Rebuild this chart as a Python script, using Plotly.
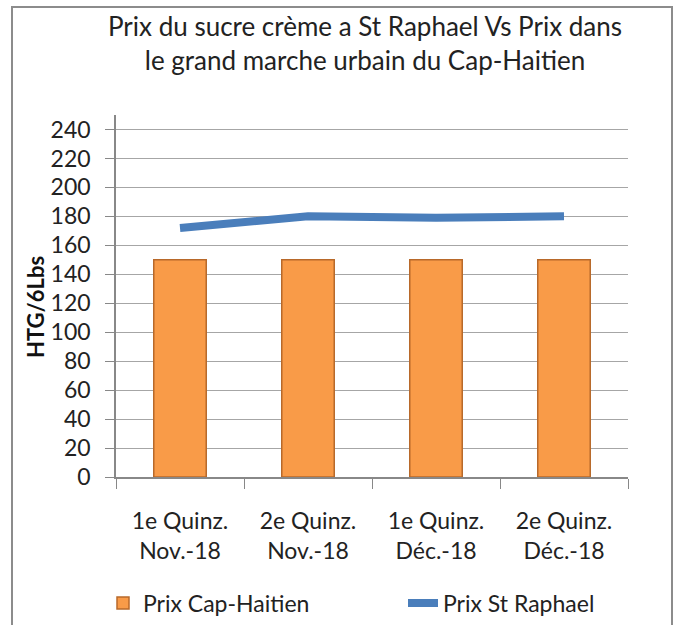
import plotly.graph_objects as go

categories = ["1e Quinz.<br>Nov.-18", "2e Quinz.<br>Nov.-18", "1e Quinz.<br>Déc.-18", "2e Quinz.<br>Déc.-18"]
prix_cap_haitien = [150, 150, 150, 150]
prix_st_raphael = [172, 180, 179, 180]
y_ticks = list(range(0, 241, 20))

W, H = 678, 625
L, R, T, B = 116, 50, 115, 148
pw, ph = W - L - R, H - T - B

def px_x(x):
    return (x - L) / pw

def px_y(y):
    return (H - B - y) / ph

font = "Lato, 'Open Sans', sans-serif"
txt = "#222"

fig = go.Figure()
fig.add_trace(go.Bar(
    x=categories, y=prix_cap_haitien, name="Prix Cap-Haitien",
    width=0.41, legend="legend",
    marker=dict(color="#F99B48", line=dict(color="#B8692A", width=1.5)),
))
fig.add_trace(go.Scatter(
    x=categories, y=prix_st_raphael, name="Prix St Raphael",
    mode="lines", line=dict(color="#4A7EBB", width=8), legend="legend2",
))

legend_common = dict(
    orientation="h", yanchor="middle", xanchor="left",
    font=dict(family=font, size=23, color=txt), bgcolor="rgba(0,0,0,0)",
)
fig.update_layout(
    width=W, height=H,
    margin=dict(l=L, r=R, t=T, b=B, autoexpand=False),
    paper_bgcolor="white", plot_bgcolor="white",
    font=dict(family=font, size=23, color=txt),
    showlegend=True,
    legend=dict(x=px_x(103), y=px_y(603), **legend_common),
    legend2=dict(x=px_x(403), y=px_y(603), **legend_common),
)
fig.add_annotation(
    text="Prix du sucre crème a St Raphael Vs Prix dans<br>le grand marche urbain du Cap-Haitien",
    xref="paper", yref="paper", x=px_x(365), y=px_y(43),
    xanchor="center", yanchor="middle", showarrow=False,
    font=dict(family=font, size=26, color=txt),
)
fig.add_annotation(
    text="<b>HTG/6Lbs</b>", textangle=-90,
    xref="paper", yref="paper", x=px_x(35), y=px_y(307),
    xanchor="center", yanchor="middle", showarrow=False,
    font=dict(family=font, size=22, color="#111"),
)
fig.update_xaxes(
    type="category", showgrid=False, showline=True, linecolor="#888", linewidth=1.5,
    ticks="outside", tickson="boundaries", ticklen=10, tickcolor="#888",
    ticklabelstandoff=23,
    tickfont=dict(family=font, size=23, color=txt),
)
fig.update_yaxes(
    range=[0, 250], tickvals=y_ticks, showgrid=True, gridcolor="#A6A6A6", gridwidth=1.2,
    showline=True, linecolor="#888", linewidth=1.5,
    ticks="outside", ticklen=9, tickcolor="#888",
    ticklabelstandoff=10,
    tickfont=dict(family=font, size=23, color=txt),
    zeroline=False,
)
fig.add_shape(
    type="rect", xref="paper", yref="paper",
    x0=px_x(12), x1=px_x(672), y0=px_y(640), y1=px_y(7),
    line=dict(color="#8C8C8C", width=2), fillcolor="rgba(0,0,0,0)", layer="below",
)

fig.write_html("out.html", config={"displayModeBar": False},
               post_script="document.body.style.margin='0px';")
